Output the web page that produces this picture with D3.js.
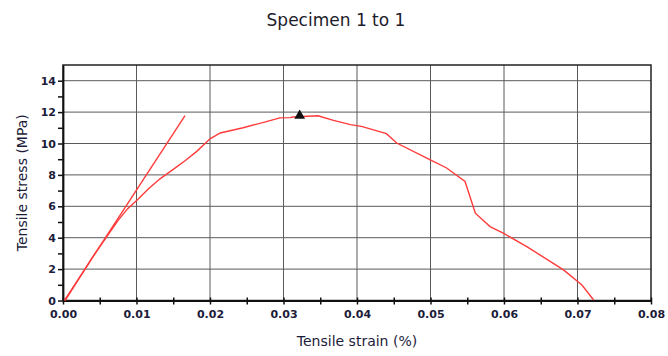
<!DOCTYPE html>
<html>
<head>
<meta charset="utf-8">
<script src="https://cdn.jsdelivr.net/npm/d3@7"></script>
<style>
  body { margin: 0; background: #fff; }
  text { font-family: "DejaVu Sans", Verdana, sans-serif; }
  .tick-label { fill: #1c1c3a; font-size: 11px; }
  .axis-title { fill: #1c1c3a; font-size: 14px; }
</style>
</head>
<body>
<svg id="chart" width="668" height="356"></svg>
<script>
const width = 668;
const height = 356;

/* DATA */
const strain = [0.0003, 0.004, 0.0075, 0.0088, 0.0102, 0.0116, 0.0132, 0.0150, 0.0166, 0.0182,
  0.0200, 0.0214, 0.0245, 0.0273, 0.0295, 0.0309, 0.0313, 0.0347, 0.0368, 0.0391,
  0.0406, 0.0440, 0.0454, 0.0499, 0.0522, 0.0547, 0.0561, 0.0581, 0.0599, 0.0631,
  0.0667, 0.0681, 0.0706, 0.0722];
const stress = [0, 2.75, 5.1, 5.85, 6.45, 7.1, 7.75, 8.35, 8.9, 9.5,
  10.3, 10.67, 11.0, 11.35, 11.63, 11.65, 11.69, 11.77, 11.47, 11.2,
  11.09, 10.63, 10.03, 8.97, 8.44, 7.58, 5.56, 4.71, 4.29, 3.43,
  2.37, 1.95, 0.99, 0.03];

const tangentStrain = [0.0002, 0.0166];
const tangentStress = [0, 11.77];

const peakStrain = 0.0322;
const peakStress = 11.77;

const xTicks = [0, 0.01, 0.02, 0.03, 0.04, 0.05, 0.06, 0.07, 0.08];
const xMinorTicks = [0.005, 0.015, 0.025, 0.035, 0.045, 0.055, 0.065, 0.075];
const yTicks = [0, 2, 4, 6, 8, 10, 12, 14];
const yMinorTicks = [1, 3, 5, 7, 9, 11, 13];

const margin = { top: 65, bottom: 55.5, left: 63, right: 17 };

/* PLOT */
const svg = d3.select("svg#chart");
const plotWidth = width - margin.left - margin.right;
const plotHeight = height - margin.top - margin.bottom;

const x = d3.scaleLinear().domain([0, 0.08]).range([0, plotWidth]);
const y = d3.scaleLinear().domain([0, 15]).range([plotHeight, 0]);

const plot = svg.append("g").attr("transform", translate(margin.left, margin.top));

/* GRID */
plot.append("g").selectAll("line")
  .data(xTicks.slice(1, -1))
  .enter().append("line")
  .attr("x1", d => x(d)).attr("x2", d => x(d))
  .attr("y1", 0).attr("y2", plotHeight)
  .attr("stroke", "#5a5a5a").attr("stroke-width", 1);

plot.append("g").selectAll("line")
  .data(yTicks.slice(1))
  .enter().append("line")
  .attr("x1", 0).attr("x2", plotWidth)
  .attr("y1", d => y(d)).attr("y2", d => y(d))
  .attr("stroke", "#5a5a5a").attr("stroke-width", 1);

/* FRAME */
plot.append("rect")
  .attr("x", 0).attr("y", 0)
  .attr("width", plotWidth).attr("height", plotHeight)
  .attr("fill", "none")
  .attr("stroke", "#222").attr("stroke-width", 1.5);

/* AXES */
const xAxis = d3.axisBottom(x)
  .tickValues(xTicks.concat(xMinorTicks))
  .tickFormat(d => xTicks.includes(d) ? d3.format(".2f")(d) : "")
  .tickSize(4).tickSizeOuter(0).tickPadding(6);

const xGroup = plot.append("g").attr("transform", translate(0, plotHeight)).call(xAxis);

const yAxis = d3.axisLeft(y)
  .tickValues(yTicks.concat(yMinorTicks))
  .tickFormat(d => yTicks.includes(d) ? d : "")
  .tickSize(5).tickSizeOuter(0).tickPadding(2);

const yGroup = plot.append("g").call(yAxis);

[xGroup, yGroup].forEach(g => {
  g.select(".domain").attr("stroke", "#111").attr("stroke-width", 1.8);
  g.selectAll(".tick line").attr("stroke", "#111").attr("stroke-width", 1.5);
  g.selectAll(".tick text").attr("class", "tick-label").style("font-weight", "bold");
  g.attr("font-family", null).attr("font-size", null);
});
xGroup.selectAll(".tick line").attr("y1", -3);

/* CURVES */
const line = d3.line()
  .x(d => x(d[0]))
  .y(d => y(d[1]));

plot.append("path")
  .datum(d3.zip(tangentStrain, tangentStress))
  .attr("d", line)
  .attr("fill", "none")
  .attr("stroke", "#ff3b3b")
  .attr("stroke-width", 1.4);

plot.append("path")
  .datum(d3.zip(strain, stress))
  .attr("d", line)
  .attr("fill", "none")
  .attr("stroke", "#ff3b3b")
  .attr("stroke-width", 1.4);

plot.append("path")
  .attr("d", d3.symbol(d3.symbolTriangle, 50)())
  .attr("transform", translate(x(peakStrain), y(peakStress)))
  .attr("fill", "#111");

/* TITLES */
svg.append("text")
  .attr("x", 336).attr("y", 26)
  .attr("text-anchor", "middle")
  .attr("fill", "#1c1c2a")
  .style("font-size", "17px")
  .text("Specimen 1 to 1");

svg.append("text")
  .attr("class", "axis-title")
  .attr("x", margin.left + plotWidth / 2).attr("y", 346)
  .attr("text-anchor", "middle")
  .text("Tensile strain (%)");

svg.append("text")
  .attr("class", "axis-title")
  .attr("transform", translate(27, margin.top + plotHeight / 2) + " rotate(-90)")
  .attr("text-anchor", "middle")
  .text("Tensile stress (MPa)");

function translate(x, y) {
  return 'translate(' + String(x) + ',' + String(y) + ')';
}
</script>
</body>
</html>
